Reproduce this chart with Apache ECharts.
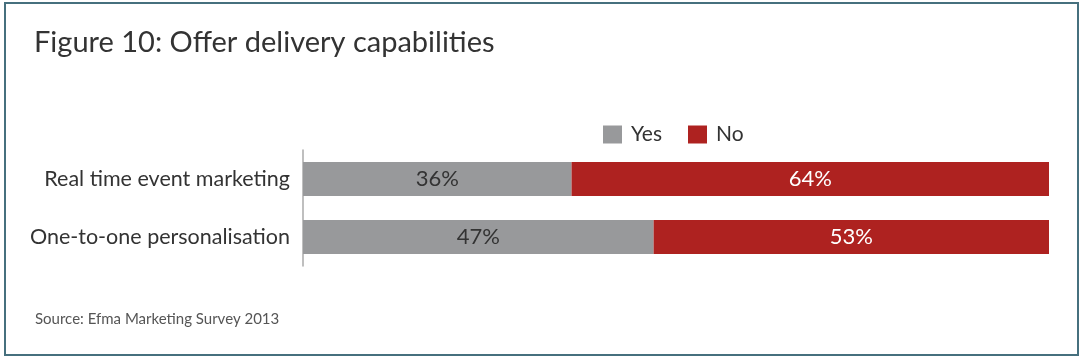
<!DOCTYPE html>
<html><head><meta charset="utf-8">
<script src="https://cdn.jsdelivr.net/npm/echarts@6/dist/echarts.min.js"></script>
<style>html,body{margin:0;padding:0;background:#fff}#c{width:1087px;height:361px}</style>
</head><body><div id="c"></div>
<script>
const categories = ['Real time event marketing', 'One-to-one personalisation'];
const yesValues = [36, 47];
const noValues = [64, 53];
const seriesNames = ['Yes', 'No'];

const FONT = 'Lato';
const chart = echarts.init(document.getElementById('c'));
chart.setOption({
  animation: false,
  backgroundColor: '#fff',
  textStyle: { fontFamily: FONT },
  title: {
    text: 'Figure 10: Offer delivery capabilities',
    left: 29, top: 23,
    textStyle: { fontFamily: FONT, fontSize: 29, fontWeight: 'normal', color: '#333' }
  },
  graphic: [
    { type: 'rect', shape: { x: 5, y: 3, width: 1073, height: 352 },
      style: { fill: 'none', stroke: '#46707e', lineWidth: 2 }, silent: true },
    { type: 'text', left: 35, top: 312,
      style: { text: 'Source: Efma Marketing Survey 2013', fontFamily: FONT, fontSize: 15, fill: '#555' } }
  ],
  legend: {
    data: seriesNames,
    left: 598, top: 119,
    itemWidth: 19, itemHeight: 18, itemGap: 26,
    icon: 'rect',
    textStyle: { fontFamily: FONT, fontSize: 21, color: '#333', padding: [0, 0, 0, 4] }
  },
  grid: { left: 303, right: 38, top: 150, bottom: 95 },
  xAxis: { type: 'value', min: 0, max: 100, show: false },
  yAxis: {
    type: 'category', data: categories, inverse: true,
    axisLine: { show: true, lineStyle: { color: '#aaa', width: 1.5 } },
    axisTick: { show: false },
    axisLabel: { fontFamily: FONT, fontSize: 21.5, color: '#333', margin: 13 }
  },
  series: [
    { name: 'Yes', type: 'bar', stack: 't', data: yesValues, barWidth: 34,
      itemStyle: { color: '#98999b' },
      label: { show: true, position: 'inside', formatter: '{c}%', fontFamily: FONT, fontSize: 22, color: '#333' } },
    { name: 'No', type: 'bar', stack: 't', data: noValues, barWidth: 34,
      itemStyle: { color: '#ae2220' },
      label: { show: true, position: 'inside', formatter: '{c}%', fontFamily: FONT, fontSize: 22, color: '#fff' } }
  ]
});
</script></body></html>
